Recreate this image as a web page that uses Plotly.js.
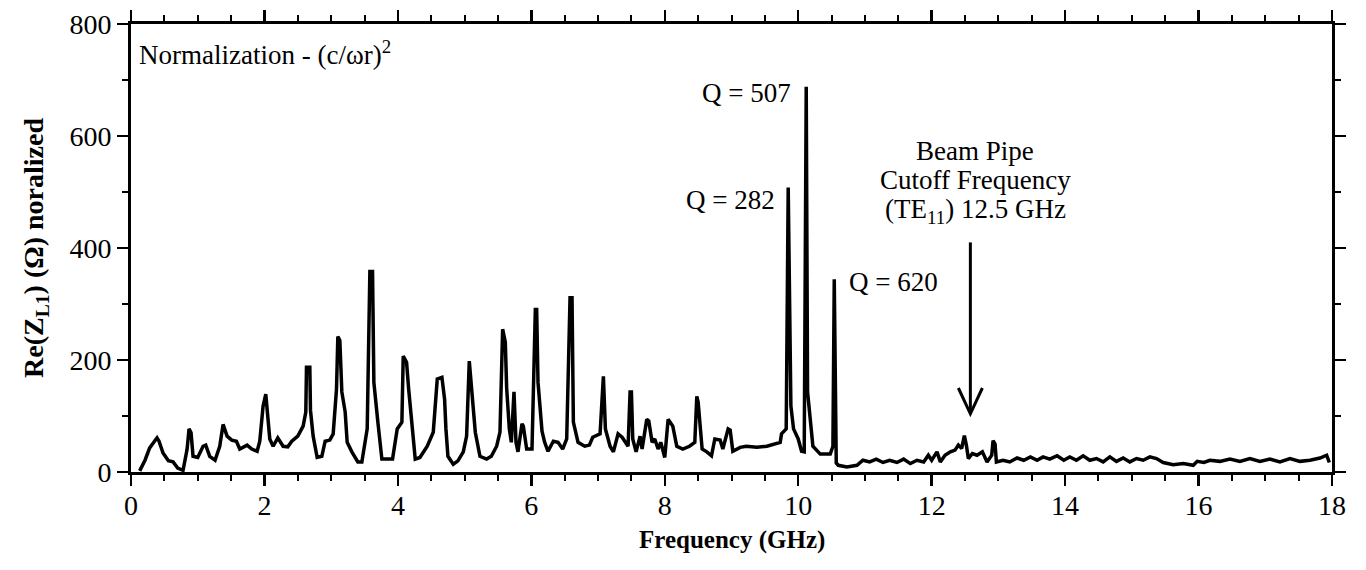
<!DOCTYPE html>
<html>
<head>
<meta charset="utf-8">
<script src="https://cdn.plot.ly/plotly-3.0.1.min.js"></script>
<style>html,body{margin:0;padding:0;background:#fff;}#chart{width:1366px;height:570px;}</style>
</head>
<body>
<div id="chart"></div>
<script>
// Frequency (GHz)
const freq = [0.13,0.21,0.28,0.39,0.42,0.48,0.56,0.63,0.70,0.78,0.84,0.87,0.90,0.93,1.00,1.08,1.12,1.18,1.26,1.33,1.38,1.44,1.51,1.58,1.63,1.74,1.81,1.89,1.93,1.98,2.02,2.05,2.08,2.13,2.20,2.28,2.35,2.41,2.50,2.58,2.62,2.63,2.68,2.69,2.73,2.79,2.86,2.91,2.98,3.03,3.08,3.10,3.13,3.16,3.21,3.24,3.31,3.40,3.46,3.54,3.58,3.62,3.64,3.70,3.76,3.86,3.92,3.99,4.06,4.08,4.13,4.16,4.21,4.26,4.33,4.41,4.44,4.53,4.59,4.66,4.70,4.72,4.75,4.83,4.90,4.98,5.03,5.07,5.11,5.16,5.23,5.33,5.40,5.48,5.53,5.57,5.61,5.63,5.67,5.70,5.74,5.77,5.80,5.86,5.88,5.93,6.01,6.06,6.08,6.10,6.16,6.20,6.25,6.33,6.40,6.47,6.53,6.58,6.61,6.63,6.70,6.80,6.87,6.92,7.03,7.08,7.11,7.18,7.23,7.30,7.36,7.45,7.48,7.50,7.52,7.57,7.63,7.66,7.73,7.76,7.81,7.85,7.90,7.94,8.00,8.05,8.12,8.18,8.27,8.37,8.45,8.48,8.50,8.56,8.63,8.70,8.75,8.83,8.87,8.95,8.98,9.02,9.13,9.22,9.38,9.53,9.73,9.75,9.82,9.85,9.89,9.93,10.00,10.05,10.09,10.12,10.14,10.18,10.22,10.33,10.48,10.52,10.54,10.57,10.60,10.73,10.88,10.97,11.07,11.17,11.27,11.37,11.48,11.58,11.68,11.78,11.88,11.95,12.00,12.08,12.13,12.20,12.28,12.35,12.40,12.45,12.49,12.52,12.55,12.61,12.68,12.76,12.83,12.90,12.92,12.95,12.97,13.07,13.17,13.28,13.38,13.48,13.58,13.67,13.77,13.88,13.98,14.07,14.17,14.27,14.37,14.47,14.57,14.67,14.77,14.87,14.97,15.07,15.17,15.27,15.37,15.47,15.62,15.77,15.92,15.98,16.08,16.17,16.32,16.47,16.62,16.77,16.92,17.07,17.22,17.37,17.52,17.67,17.82,17.92,17.96];
// Re(Z_L1) normalized (Ohm)
const reZ = [2,21,43,61,55,34,20,18,7,3,40,77,70,28,26,46,48,28,21,46,85,64,57,55,41,48,41,37,55,118,139,100,59,46,61,46,45,55,64,82,107,187,187,110,64,26,28,55,57,68,148,242,235,143,107,53,36,18,18,77,358,358,160,89,23,23,23,77,89,207,196,150,89,23,26,41,46,71,166,169,130,77,28,14,20,36,64,198,143,71,28,23,28,46,71,255,232,150,77,53,143,53,36,86,82,41,41,290,290,160,73,53,37,55,53,41,59,311,311,89,53,46,48,62,68,171,77,46,36,68,62,46,143,143,59,36,64,41,94,91,53,59,41,53,26,94,82,46,41,46,53,135,125,41,36,29,59,57,41,77,75,37,44,46,44,46,53,68,77,508,118,77,59,37,36,688,143,94,46,32,32,46,344,16,12,9,12,21,18,23,17,21,17,23,15,21,18,30,21,36,18,30,36,39,48,42,65,48,24,33,30,36,18,30,56,50,18,21,18,25,21,27,21,27,23,29,21,27,21,29,21,24,18,27,19,25,18,24,21,27,24,17,13,15,12,19,17,21,19,23,19,24,19,23,18,24,19,21,25,30,17];

const xTitle = "Frequency (GHz)";
const yTitle = "Re(Z<sub>L1</sub>) (Ω) noralized";
const qLabels = ["Q = 507", "Q = 282", "Q = 620"];

const serif = "Liberation Serif, Times New Roman, serif";
const black = "#000";

const axisCommon = {
  showgrid: false, zeroline: false, showline: true, linecolor: black, linewidth: 3,
  ticks: "outside", ticklen: 11, tickwidth: 2.5, tickcolor: black, mirror: "allticks",
  tickfont: {family: serif, size: 28, color: black}
};

const layout = {
  width: 1366, height: 570,
  margin: {l: 131, r: 34, t: 24, b: 98},
  paper_bgcolor: "#fff", plot_bgcolor: "#fff",
  showlegend: false,
  xaxis: Object.assign({}, axisCommon, {
    range: [0, 18], dtick: 2, tick0: 0, ticklabelstandoff: -5,
    minor: {dtick: 0.5, ticks: "outside", ticklen: 6, tickwidth: 2, tickcolor: black}
  }),
  yaxis: Object.assign({}, axisCommon, {
    range: [0, 800], dtick: 200, tick0: 0,
    minor: {dtick: 100, ticks: "outside", ticklen: 6, tickwidth: 2, tickcolor: black}
  }),
  annotations: [
    {xref: "x", yref: "y", x: 0.09, y: 749, xanchor: "left", yanchor: "middle", showarrow: false,
     text: "Normalization - (c/ωr)<sup>2</sup>", font: {family: serif, size: 27, color: black}},
    {xref: "x", yref: "y", x: 9.92, y: 677, xanchor: "right", yanchor: "middle", showarrow: false,
     text: qLabels[0], font: {family: serif, size: 27, color: black}},
    {xref: "x", yref: "y", x: 9.68, y: 485, xanchor: "right", yanchor: "middle", showarrow: false,
     text: qLabels[1], font: {family: serif, size: 27, color: black}},
    {xref: "x", yref: "y", x: 10.73, y: 339, xanchor: "left", yanchor: "middle", showarrow: false,
     text: qLabels[2], font: {family: serif, size: 27, color: black}},
    {xref: "x", yref: "y", x: 12.65, y: 574, xanchor: "center", yanchor: "middle", showarrow: false,
     text: "Beam Pipe", font: {family: serif, size: 27, color: black}},
    {xref: "x", yref: "y", x: 12.65, y: 522, xanchor: "center", yanchor: "middle", showarrow: false,
     text: "Cutoff Frequency", font: {family: serif, size: 27, color: black}},
    {xref: "x", yref: "y", x: 12.65, y: 466, xanchor: "center", yanchor: "middle", showarrow: false,
     text: "(TE<sub>11</sub>) 12.5 GHz", font: {family: serif, size: 27, color: black}},
    {xref: "paper", yref: "paper", x: -0.08, y: 0.5, xanchor: "center", yanchor: "middle", showarrow: false,
     textangle: -90, text: "<b>" + yTitle + "</b>", font: {family: serif, size: 28, color: black}},
    {xref: "paper", yref: "paper", x: 0.5, y: -0.152, xanchor: "center", yanchor: "middle", showarrow: false,
     text: "<b>" + xTitle + "</b>", font: {family: serif, size: 25, color: black}}
  ],
  shapes: [
    {type: "line", xref: "x", yref: "y", x0: 12.58, x1: 12.58, y0: 410, y1: 106, line: {color: black, width: 3}},
    {type: "path", xref: "x", yref: "y", path: "M 12.40 150 L 12.58 104 L 12.76 150", line: {color: black, width: 3}}
  ]
};

const trace = {
  x: freq, y: reZ, type: "scatter", mode: "lines",
  line: {color: black, width: 3.5}, hoverinfo: "skip"
};

Plotly.newPlot("chart", [trace], layout, {displayModeBar: false, staticPlot: true});
</script>
</body>
</html>
